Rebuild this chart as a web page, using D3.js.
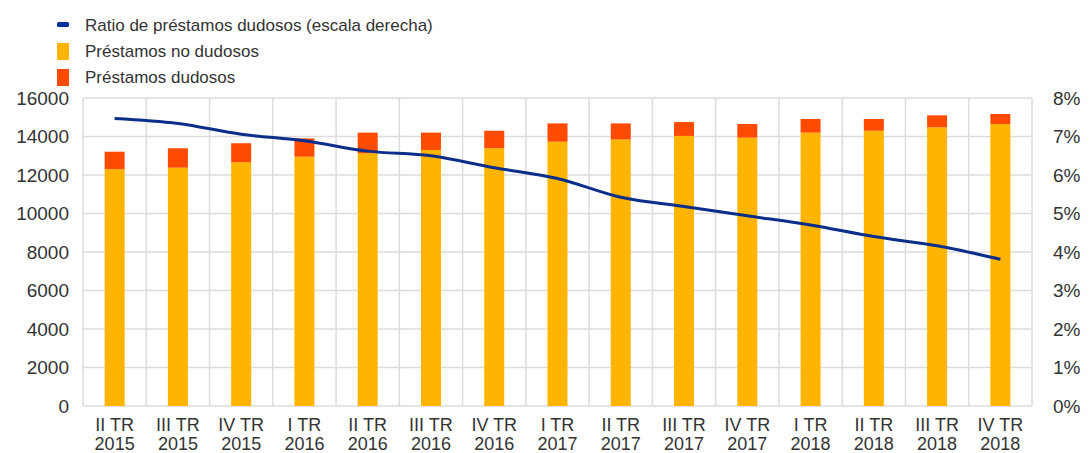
<!DOCTYPE html>
<html>
<head>
<meta charset="utf-8">
<script src="https://cdn.jsdelivr.net/npm/d3@7"></script>
<style>
  body { margin: 0; background: #fff; }
  text { font-family: "Liberation Sans", Arial, sans-serif; fill: #333; }
</style>
</head>
<body>
<div id="chart"></div>
<script>
// quarters on the x axis (two lines each)
const quarters = ["II TR", "III TR", "IV TR", "I TR", "II TR", "III TR", "IV TR", "I TR",
                  "II TR", "III TR", "IV TR", "I TR", "II TR", "III TR", "IV TR"];
const years = ["2015", "2015", "2015", "2016", "2016", "2016", "2016", "2017",
               "2017", "2017", "2017", "2018", "2018", "2018", "2018"];
// stacked bars (left axis)
const performing = [12300, 12380, 12660, 12950, 13130, 13300, 13390, 13730,
                    13850, 14030, 13940, 14200, 14300, 14480, 14650];
const nonPerforming = [910, 1010, 990, 950, 1070, 900, 910, 950,
                       830, 720, 710, 710, 610, 620, 520];
// ratio line (right axis, %)
const npRatio = [7.47, 7.34, 7.06, 6.89, 6.62, 6.50, 6.19, 5.91,
                 5.42, 5.18, 4.94, 4.70, 4.40, 4.16, 3.81];
const leftTicks = [0, 2000, 4000, 6000, 8000, 10000, 12000, 14000, 16000];
const rightTicks = [0, 1, 2, 3, 4, 5, 6, 7, 8];

const width = 1089;
const height = 453;
const margin = {t: 98, b: 47, l: 83, r: 57};

const svg = d3.select("#chart")
    .append("svg")
    .attr("width", width)
    .attr("height", height)
    .attr("viewBox", [0, 0, width, height]);

const idx = d3.range(quarters.length);

const xScale = d3.scaleBand()
    .domain(idx)
    .range([margin.l, width - margin.r]);
const yScale = d3.scaleLinear()
    .domain([0, 16000])
    .range([height - margin.b, margin.t]);
const yRight = d3.scaleLinear()
    .domain([0, 8])
    .range([height - margin.b, margin.t]);

// grid
svg.append("g")
    .selectAll("line")
    .data(leftTicks)
    .join("line")
    .attr("x1", margin.l)
    .attr("x2", width - margin.r)
    .attr("y1", d => yScale(d))
    .attr("y2", d => yScale(d))
    .style("stroke", "#dcdcdc")
    .style("stroke-width", 1.5);
svg.append("g")
    .selectAll("line")
    .data(d3.range(quarters.length + 1))
    .join("line")
    .attr("x1", d => margin.l + d * xScale.step())
    .attr("x2", d => margin.l + d * xScale.step())
    .attr("y1", yScale(16000))
    .attr("y2", yScale(0))
    .style("stroke", "#dcdcdc")
    .style("stroke-width", 1.5);

// left axis
const yAxis = d3.axisLeft(yScale).tickValues(leftTicks).tickSize(0).tickPadding(14)
    .tickFormat(d3.format("d"));
svg.append("g")
    .attr("transform", `translate(${margin.l}, 0)`)
    .style("font-size", "19px")
    .call(yAxis)
    .call(g => g.select(".domain").remove())
    .selectAll("text").style("fill", "#333").attr("font-family", null);

// right axis
const yAxisR = d3.axisRight(yRight).tickValues(rightTicks).tickSize(0).tickPadding(21)
    .tickFormat(d => d + "%");
svg.append("g")
    .attr("transform", `translate(${width - margin.r}, 0)`)
    .style("font-size", "19px")
    .call(yAxisR)
    .call(g => g.select(".domain").remove())
    .selectAll("text").style("fill", "#333").attr("font-family", null);

// x labels
const xLab = svg.append("g").style("font-size", "18px");
idx.forEach(i => {
    const cx = xScale(i) + xScale.bandwidth() / 2;
    const t = xLab.append("text")
        .attr("x", cx)
        .attr("y", height - margin.b + 25)
        .attr("text-anchor", "middle");
    t.append("tspan").attr("x", cx).text(quarters[i]);
    t.append("tspan").attr("x", cx).attr("dy", 19).text(years[i]);
});

// bars
const barW = 20;
svg.append("g")
    .selectAll("rect")
    .data(idx)
    .join("rect")
    .attr("x", i => xScale(i) + (xScale.bandwidth() - barW) / 2)
    .attr("y", i => yScale(performing[i]))
    .attr("width", barW)
    .attr("height", i => yScale(0) - yScale(performing[i]))
    .style("fill", "#FFB400");
svg.append("g")
    .selectAll("rect")
    .data(idx)
    .join("rect")
    .attr("x", i => xScale(i) + (xScale.bandwidth() - barW) / 2)
    .attr("y", i => yScale(performing[i] + nonPerforming[i]))
    .attr("width", barW)
    .attr("height", i => yScale(performing[i]) - yScale(performing[i] + nonPerforming[i]))
    .style("fill", "#FF4B00");

// ratio line
const line = d3.line()
    .x(i => xScale(i) + xScale.bandwidth() / 2)
    .y(i => yRight(npRatio[i]))
    .curve(d3.curveMonotoneX);
svg.append("path")
    .datum(idx)
    .attr("d", line)
    .style("fill", "none")
    .style("stroke", "#0A2E8A")
    .style("stroke-width", 3);

// legend
const legend = [
    {label: "Ratio de préstamos dudosos (escala derecha)", color: "#003299", type: "line"},
    {label: "Préstamos no dudosos", color: "#FFB400", type: "box"},
    {label: "Préstamos dudosos", color: "#FF4B00", type: "box"}
];
legend.forEach((d, i) => {
    const y = 25 + i * 26;
    if (d.type === "line") {
        svg.append("rect").attr("x", 57).attr("y", y - 3).attr("width", 12).attr("height", 5)
            .attr("rx", 1.5).style("fill", d.color);
    } else {
        svg.append("rect").attr("x", 57).attr("y", y - 8).attr("width", 12).attr("height", 17)
            .style("fill", d.color);
    }
    svg.append("text")
        .attr("x", 85)
        .attr("y", y + 6)
        .style("font-size", "17px")
        .text(d.label);
});
</script>
</body>
</html>
